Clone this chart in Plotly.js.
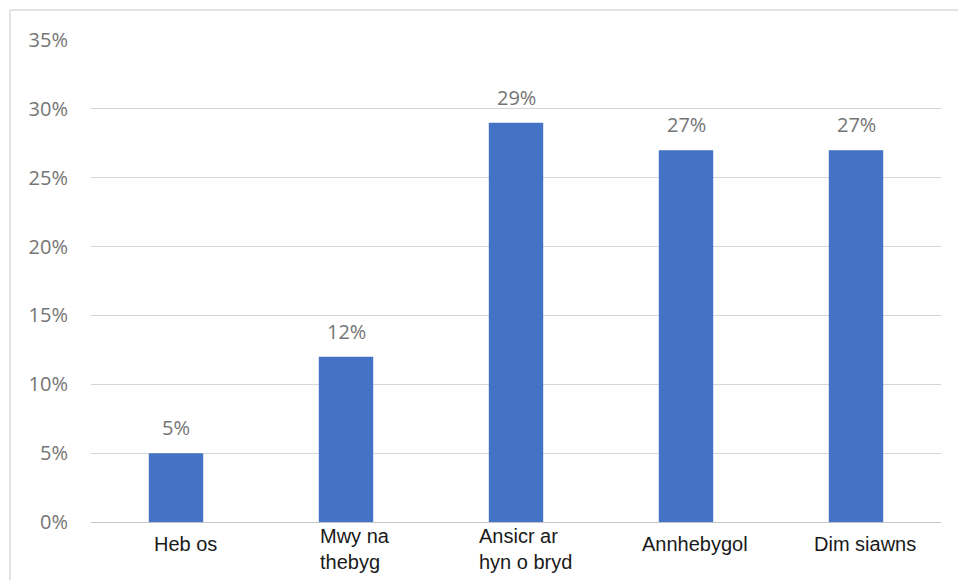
<!DOCTYPE html>
<html>
<head>
<meta charset="utf-8">
<script src="https://cdn.plot.ly/plotly-3.0.1.min.js"></script>
<style>html,body{margin:0;padding:0;background:#fff;}#chart{width:958px;height:580px;}</style>
</head>
<body>
<div id="chart"></div>
<script>
const categories = ["Heb os", "Mwy na thebyg", "Ansicr ar hyn o bryd", "Annhebygol", "Dim siawns"];
const tickLabels = ["Heb os", "Mwy na<br>thebyg", "Ansicr ar<br>hyn o bryd", "Annhebygol", "Dim siawns"];
const values = [5, 12, 29, 27, 27];
const yTickVals = [0, 5, 10, 15, 20, 25, 30, 35];

const labelFont = {family: "Open Sans, sans-serif", size: 20, color: "#757575"};

const annotations = [];
categories.forEach((c, i) => {
  annotations.push({
    x: c, y: values[i], xref: "x", yref: "y",
    text: values[i] + "%", showarrow: false,
    yanchor: "bottom", yshift: 10, font: labelFont
  });
  const twoLine = tickLabels[i].indexOf("<br>") >= 0;
  annotations.push({
    x: c, y: 0, xref: "x", yref: "paper",
    text: tickLabels[i], showarrow: false, align: "left",
    xanchor: "center", yanchor: "top", xshift: 9, yshift: twoLine ? -1 : -9,
    font: {family: "Liberation Sans, Arial, sans-serif", size: 20, color: "#1a1a1a"}
  });
});

const trace = {
  type: "bar", x: categories, y: values,
  marker: {color: "#4472C4"}, hoverinfo: "skip"
};

const layout = {
  width: 958, height: 580,
  margin: {l: 91, r: 17, t: 40, b: 58},
  paper_bgcolor: "#ffffff", plot_bgcolor: "#ffffff",
  showlegend: false, bargap: 0.68,
  xaxis: {showticklabels: false, showgrid: false, zeroline: false, showline: false, fixedrange: true},
  yaxis: {
    range: [0, 35], tickvals: yTickVals, ticktext: yTickVals.map(v => v + "%"),
    showgrid: true, gridcolor: "#d6d6d6", gridwidth: 1,
    zeroline: true, zerolinecolor: "#c4c4c4", zerolinewidth: 1,
    showline: false, ticks: "", ticklabelstandoff: 22,
    tickfont: labelFont, fixedrange: true
  },
  annotations: annotations,
  shapes: [
    {type: "line", xref: "paper", yref: "paper", x0: -0.0953, x1: 1.02, y0: 1.062, y1: 1.062, line: {color: "#d9d9d9", width: 1.5}},
    {type: "line", xref: "paper", yref: "paper", x0: -0.0953, x1: -0.0953, y0: 1.062, y1: -0.2, line: {color: "#d9d9d9", width: 1.5}}
  ]
};

Plotly.newPlot("chart", [trace], layout, {displayModeBar: false, staticPlot: true});
</script>
</body>
</html>
